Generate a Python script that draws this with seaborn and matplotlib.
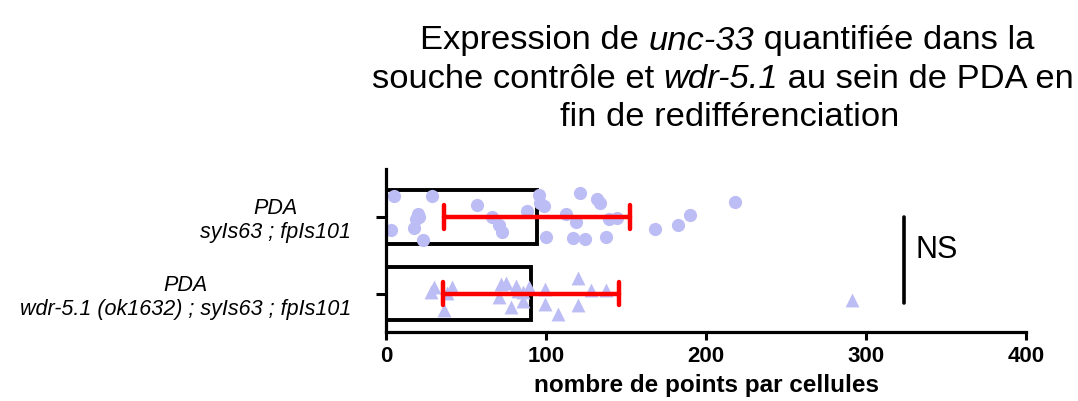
import numpy as np
import pandas as pd
import matplotlib
matplotlib.use("Agg")
import matplotlib.pyplot as plt
from matplotlib.offsetbox import TextArea, HPacker, AnchoredOffsetbox
import seaborn as sns

# ---------------- data ----------------
categories = ["PDA\nsyIs63 ; fpIs101",
              "PDA\nwdr-5.1 (ok1632) ; syIs63 ; fpIs101"]

control_values = [4.7, 3.3, 20, 17.3, 23.1, 19, 20.9, 28.8, 57.1, 66.1, 70.3,
                  72.4, 87.9, 95.5, 99, 100, 96.3, 112.3, 116.9, 121, 119,
                  124.2, 134, 139.5, 137.4, 132, 144.1, 168.2, 182.5, 189.8, 218]

mutant_values = [38.3, 29.9, 27.8, 41, 36.2, 78.1, 71.8, 70.3, 75, 82.3, 81.3,
                 85.4, 89.2, 85.8, 99.1, 99.1, 107.4, 120, 120, 128.4, 137.4, 291.5]

x_ticks = [0, 100, 200, 300, 400]
x_label = "nombre de points par cellules"
# title pieces: (text, italic?)
title_line1 = [("Expression de ", False), ("unc-33", True), (" quantifiée dans la", False)]
title_line2 = [("souche contrôle et ", False), ("wdr-5.1", True), (" au sein de PDA en", False)]
title_line3 = [("fin de redifférenciation", False)]
stat_label = "NS"

# ---------------- style ----------------
sns.set_style("ticks")
plt.rcParams["font.family"] = ["Liberation Sans", "DejaVu Sans"]
plt.rcParams["text.color"] = "black"
plt.rcParams["axes.edgecolor"] = "black"
plt.rcParams["axes.labelcolor"] = "black"
plt.rcParams["xtick.color"] = "black"
plt.rcParams["ytick.color"] = "black"

point_color = "#bdbdf6"

df = pd.DataFrame({
    "group": [categories[0]] * len(control_values) + [categories[1]] * len(mutant_values),
    "value": control_values + mutant_values,
})

fig = plt.figure(figsize=(10.78, 4.01), dpi=100)
ax = fig.add_axes([0.3581, 0.172, 0.5937, 0.4066])

sns.barplot(data=df, x="value", y="group", order=categories, orient="h",
            errorbar="sd", capsize=0.31, width=0.7, color="white", saturation=1,
            edgecolor="black", linewidth=2.8,
            err_kws={"color": "red", "linewidth": 3.2, "zorder": 5}, ax=ax)

np.random.seed(7)
sns.stripplot(data=df[df["group"] == categories[0]], x="value", y="group",
              order=categories, orient="h", marker="o", size=9.5,
              color=point_color, jitter=0.32, linewidth=0, ax=ax, zorder=2)
sns.stripplot(data=df[df["group"] == categories[1]], x="value", y="group",
              order=categories, orient="h", marker="^", size=10,
              color=point_color, jitter=0.32, linewidth=0, ax=ax, zorder=2)

ax.set_xlim(0, 400)
ax.set_ylim(1.5, -0.62)
ax.set_xticks(x_ticks)
ax.set_xticklabels([str(t) for t in x_ticks], fontweight="bold", fontsize=16)
ax.set_xlabel(x_label, fontweight="bold", fontsize=17.5, labelpad=5)
ax.set_ylabel("")

for lbl in ax.get_yticklabels():
    lbl.set_fontstyle("italic")
    lbl.set_fontsize(15.5)
    lbl.set_multialignment("center")

for side in ["top", "right"]:
    ax.spines[side].set_visible(False)
for side in ["left", "bottom"]:
    ax.spines[side].set_linewidth(2.3)
ax.tick_params(axis="y", length=7, width=2.2, pad=18)
ax.tick_params(axis="x", length=5.8, width=2.2, pad=4)

# significance annotation
ax.plot([324, 324], [0.0, 1.12], color="black", linewidth=2.6, clip_on=False)
ax.text(331, 0.43, stat_label, fontsize=22, va="center", ha="left")

# title lines built from regular / italic pieces
def title_line(pieces, cx, cy):
    areas = [TextArea(t, textprops=dict(fontsize=24.8, color="black",
                                        fontstyle="italic" if it else "normal"))
             for t, it in pieces]
    box = HPacker(children=areas, align="baseline", pad=0, sep=0)
    anch = AnchoredOffsetbox(loc="center", child=box, pad=0, borderpad=0,
                             frameon=False, bbox_to_anchor=(cx / 1078, 1 - cy / 401),
                             bbox_transform=fig.transFigure)
    fig.add_artist(anch)

title_line(title_line1, 727, 41)
title_line(title_line2, 723, 80)
title_line(title_line3, 730, 118)

fig.savefig("out.png", dpi=100)
